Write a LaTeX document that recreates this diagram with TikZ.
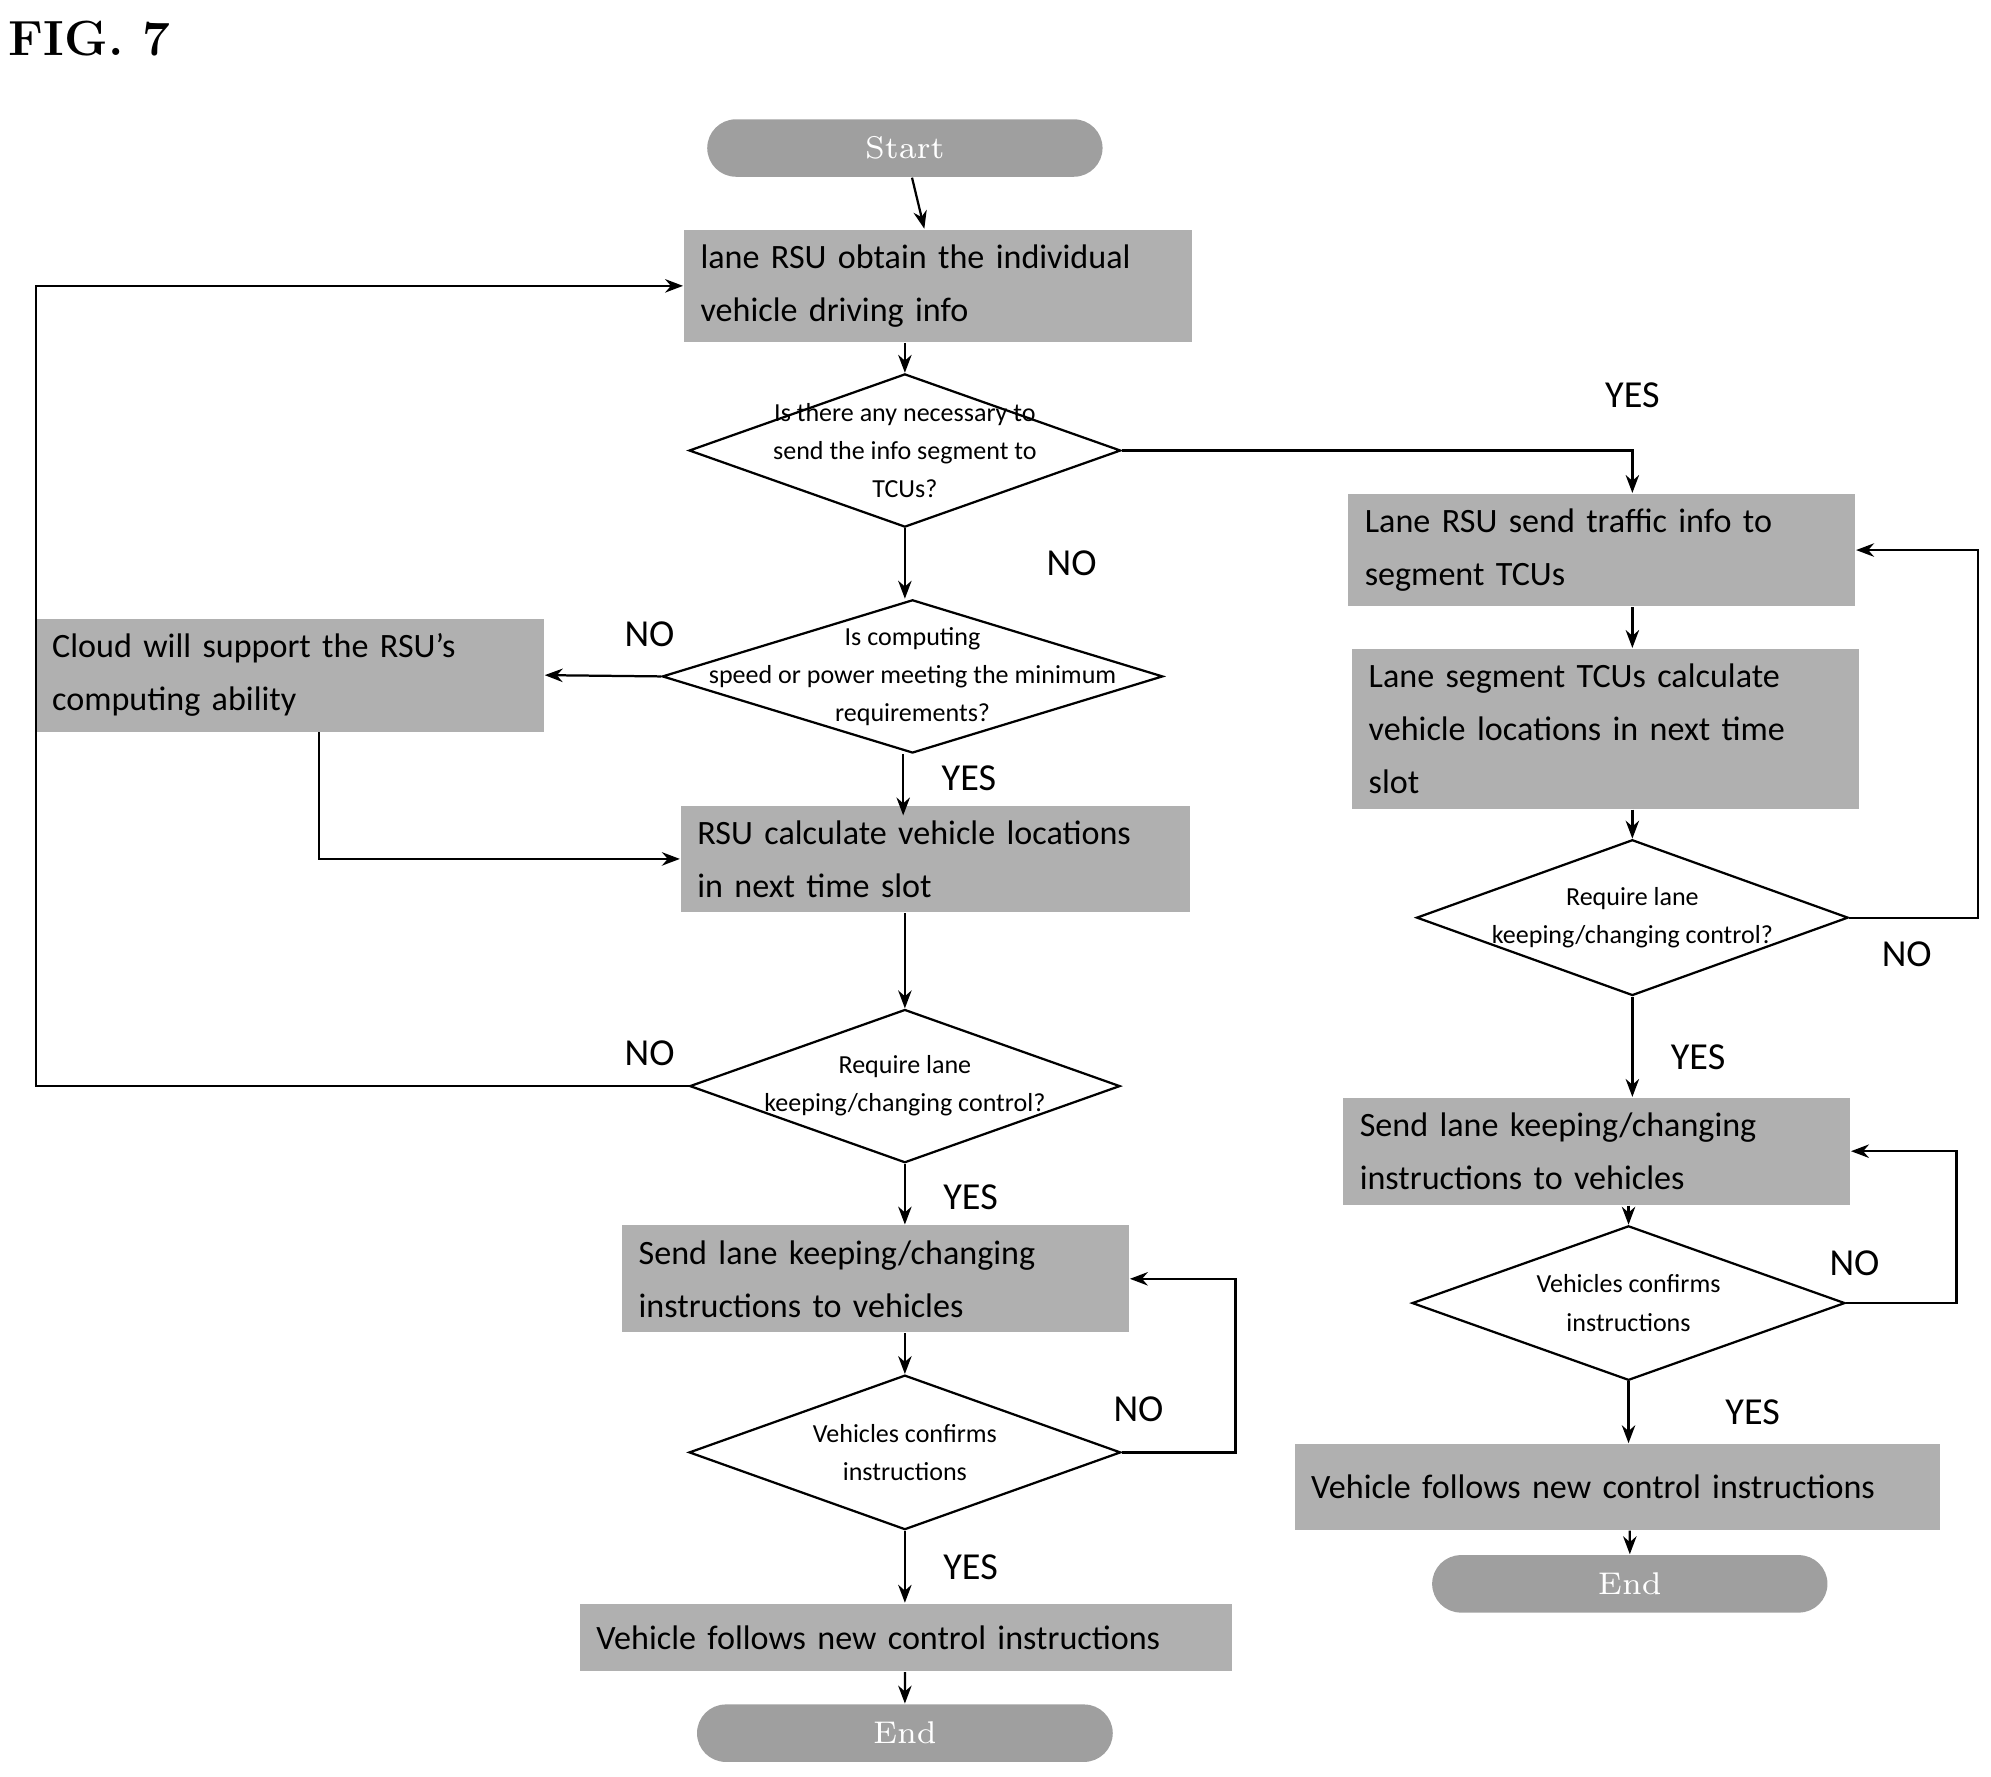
\documentclass[tikz,border=0pt]{standalone}
\usepackage{fontspec}
\setsansfont{Carlito}
\usetikzlibrary{shapes.geometric,arrows.meta}
\tikzset{
  box/.style={fill=gray!62, align=left, inner xsep=0.13cm, font=\sffamily\fontsize{7.6}{11.8}\selectfont},
  term/.style={rounded rectangle, fill=gray!75, text=white, font=\fontsize{7}{8}\selectfont, minimum height=0.45cm},
  dec/.style={diamond, draw, inner sep=0pt, line width=0.5pt},
  dtext/.style={align=center, font=\sffamily\fontsize{5.8}{8.5}\selectfont},
  yn/.style={font=\sffamily\fontsize{8.5}{10}\selectfont},
  arr/.style={-{Stealth[length=4pt,width=3pt]}, line width=0.5pt}
}
\usetikzlibrary{shapes.misc}
\begin{document}
\begin{tikzpicture}[x=0.01cm,y=-0.01cm]
  \useasboundingbox (0,0) rectangle (1560,1392);
  \node[font=\bfseries\fontsize{11}{12}\selectfont] (fig) at (70,30) {FIG. 7};

  % left column
  \node[term, minimum width=3.33cm] (start) at (709,116) {Start};
  \node[box, text width=3.72cm, minimum height=0.68cm] (obtain) at (735,224) {lane RSU obtain the individual\\vehicle driving info};
  \node[dec, minimum width=3.38cm, minimum height=1.2cm,
        label={[dtext]center:Is there any necessary to\\send the info segment to\\TCUs?}] (need) at (709,353) {};
  \node[dec, minimum width=3.92cm, minimum height=1.2cm,
        label={[dtext]center:Is computing\\speed or power meeting the minimum\\requirements?}] (power) at (715,530) {};
  \node[box, text width=3.72cm, minimum height=0.7cm] (cloud) at (227,529) {Cloud will support the RSU's\\computing ability};
  \node[box, text width=3.73cm, minimum height=0.69cm] (rsucalc) at (733,673) {RSU calculate vehicle locations\\in next time slot};
  \node[dec, minimum width=3.37cm, minimum height=1.2cm,
        label={[dtext]center:Require lane\\keeping/changing control?}] (req) at (709,851) {};
  \node[box, text width=3.71cm, minimum height=0.68cm] (send) at (686,1002) {Send lane keeping/changing\\instructions to vehicles};
  \node[dec, minimum width=3.38cm, minimum height=1.21cm,
        label={[dtext]center:Vehicles confirms\\instructions}] (conf) at (709,1138) {};
  \node[box, text width=4.85cm, minimum height=0.53cm] (follow) at (710,1283) {Vehicle follows new control instructions};
  \node[term, minimum width=3.49cm] (end) at (709,1358) {End};

  % right column
  \node[box, text width=3.71cm, minimum height=0.68cm] (tcusend) at (1255,431) {Lane RSU send traffic info to\\segment TCUs};
  \node[box, text width=3.71cm, minimum height=1.16cm] (tcucalc) at (1258,571) {Lane segment TCUs calculate\\vehicle locations in next time\\slot};
  \node[dec, minimum width=3.38cm, minimum height=1.22cm,
        label={[dtext]center:Require lane\\keeping/changing control?}] (rreq) at (1279,719) {};
  \node[box, text width=3.71cm, minimum height=0.68cm] (rsend) at (1251,902) {Send lane keeping/changing\\instructions to vehicles};
  \node[dec, minimum width=3.39cm, minimum height=1.21cm,
        label={[dtext]center:Vehicles confirms\\instructions}] (rconf) at (1276,1021) {};
  \node[box, text width=4.79cm, minimum height=0.67cm] (rfollow) at (1267,1165) {Vehicle follows new control instructions};
  \node[term, minimum width=3.33cm] (rend) at (1277,1241) {End};

  \coordinate (loopl) at (28,851);
  \coordinate (loopc) at (968,1138);
  \coordinate (rloop) at (1550,719);
  \coordinate (rloopc) at (1533,1021);

  % connectors
  \draw[arr] (start) -- (obtain);
  \draw[arr] (obtain.south -| need) -- (need);
  \draw[arr] (need.east) -- ++(400,0) -| (tcusend.north -| rreq) node[yn, pos=0.35, above=6pt] {YES};
  \draw[arr] (need) -- (need.south |- power.north) node[yn, pos=0.5, right=28pt] {NO};
  \draw[arr] (power.west) -- (cloud.east) node[yn, pos=0.1, above=3pt] {NO};
  \draw[arr] (power.south -| rsucalc.south west) ++(175,0) -- ++(0,48) node[yn, pos=0.4, right=5pt] {YES};
  \draw[arr] (cloud.south -| 250,0) |- (rsucalc.west);
  \draw[arr] (rsucalc.south -| req) -- (req);
  \draw[arr] (req.west) -- (loopl) |- (obtain.west) node[yn, pos=0.98, above=4pt] {};
  \node[yn] (nol) at (509,825) {NO};
  \draw[arr] (req) -- (req |- send.north) node[yn, pos=0.55, right=5pt] {YES};
  \draw[arr] (send.south -| conf) -- (conf);
  \draw[arr] (conf.east) -- (loopc) |- (send.east);
  \node[yn] (noc) at (892,1104) {NO};
  \draw[arr] (conf) -- (conf |- follow.north) node[yn, pos=0.5, right=5pt] {YES};
  \draw[arr] (follow.south -| end) -- (end);

  \draw[arr] (tcusend.south -| rreq) -- (tcucalc.north -| rreq);
  \draw[arr] (tcucalc.south -| rreq) -- (rreq);
  \draw[arr] (rreq.east) -- (rloop) |- (tcusend.east);
  \node[yn] (nor) at (1494,748) {NO};
  \draw[arr] (rreq) -- (rreq |- rsend.north) node[yn, pos=0.6, right=5pt] {YES};
  \draw[arr] (rsend.south -| rconf) -- (rconf);
  \draw[arr] (rconf.east) -- (rloopc) |- (rsend.east);
  \node[yn] (norc) at (1453,990) {NO};
  \draw[arr] (rconf) -- (rconf |- rfollow.north) node[yn, pos=0.5, right=18pt] {YES};
  \draw[arr] (rfollow.south -| rend) -- (rend);
\end{tikzpicture}
\end{document}
